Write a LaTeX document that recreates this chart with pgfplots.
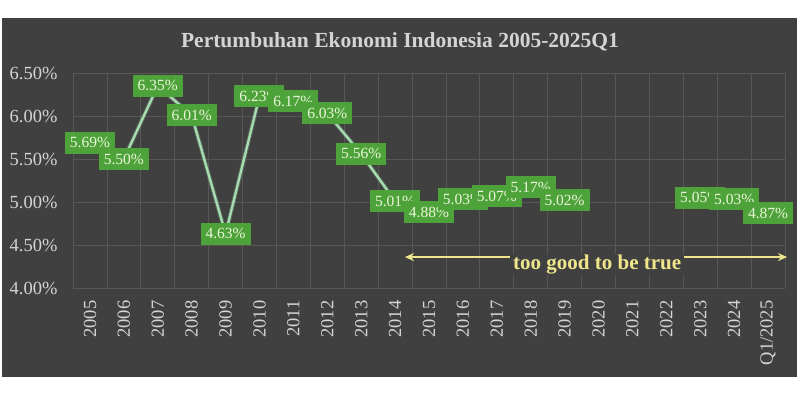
\documentclass[border=0pt]{standalone}
\usepackage{pgfplots}
\pgfplotsset{compat=1.18}
\usetikzlibrary{arrows.meta}
\usepackage{fontspec}
\setmainfont{Liberation Serif}
\definecolor{bg}{HTML}{404040}
\definecolor{gridc}{HTML}{575757}
\definecolor{lbl}{HTML}{4EA23A}
\definecolor{lbltxt}{HTML}{EAF6D8}
\definecolor{linec}{HTML}{A6DDB0}
\definecolor{tickc}{HTML}{D4D4D4}
\definecolor{yel}{HTML}{EFE68C}
\begin{document}
\begin{tikzpicture}
\fill[white] (0pt,0pt) rectangle (800pt,400pt);
\fill[bg] (2pt,23pt) rectangle (797pt,382pt);
\node[text=tickc, font=\fontsize{21.5}{24}\selectfont\bfseries] at (400pt,358pt) {Pertumbuhan Ekonomi Indonesia 2005-2025Q1};
\begin{axis}[
  at={(73pt,112pt)}, anchor=south west, scale only axis,
  width=712pt, height=215pt,
  xmin=-0.5, xmax=20.5, ymin=4, ymax=6.5,
  clip=false,
  axis line style={draw=none},
  major tick length=0pt, minor tick length=0pt,
  ytick={4,4.5,5,5.5,6,6.5},
  yticklabel={\pgfmathprintnumber[fixed,fixed zerofill,precision=2]{\tick}\%},
  xtick={0,...,20},
  xticklabels={2005,2006,2007,2008,2009,2010,2011,2012,2013,2014,2015,2016,2017,2018,2019,2020,2021,2022,2023,2024,Q1/2025},
  minor xtick={-0.5,0.5,...,20.5},
  ymajorgrids, xminorgrids,
  grid style={draw=gridc, line width=0.8pt},
  /pgf/number format/assume math mode=true,
  tick label style={text=tickc, font=\fontsize{18.5}{20}\selectfont},
  x tick label style={rotate=90, anchor=east, xshift=0pt},
  xtick pos=bottom,
  ytick pos=left,
  xticklabel shift=9pt,
  yticklabel shift=12pt,
  nodes near coords,
  point meta=explicit symbolic,
  nodes near coords style={anchor=center, fill=lbl, text=lbltxt,
     font=\fontsize{15.5}{17}\selectfont, inner xsep=5pt, inner ysep=0pt,
     minimum height=22pt},
]
\addplot[draw=linec!60!bg, line width=4.5pt, mark=none, opacity=0.35, forget plot, nodes near coords=false] coordinates {
 (0,5.69) (1,5.50) (2,6.35) (3,6.01) (4,4.63) (5,6.23) (6,6.17) (7,6.03) (8,5.56) (9,5.01) (10,4.88) (11,5.03) (12,5.07) (13,5.17) (14,5.02)
};
\addplot[draw=linec, line width=2.4pt, mark=none] coordinates {
 (0,5.69) [5.69\%]
 (1,5.50) [5.50\%]
 (2,6.35) [6.35\%]
 (3,6.01) [6.01\%]
 (4,4.63) [4.63\%]
 (5,6.23) [6.23\%]
 (6,6.17) [6.17\%]
 (7,6.03) [6.03\%]
 (8,5.56) [5.56\%]
 (9,5.01) [5.01\%]
 (10,4.88) [4.88\%]
 (11,5.03) [5.03\%]
 (12,5.07) [5.07\%]
 (13,5.17) [5.17\%]
 (14,5.02) [5.02\%]
};
\addplot[draw=linec, line width=2.4pt, mark=none] coordinates {
 (18,5.05) [5.05\%]
 (19,5.03) [5.03\%]
 (20,4.87) [4.87\%]
};
\draw[yel, line width=2.6pt, {Stealth[length=9pt,width=8pt]}-{Stealth[length=9pt,width=8pt]}] (axis cs:9.29,4.36) -- (axis cs:20.56,4.36);
\node[fill=bg, text=yel, font=\fontsize{21}{23}\selectfont\bfseries, inner xsep=3pt, inner ysep=1pt] at (axis cs:14.96,4.27) {too good to be true};
\end{axis}
\end{tikzpicture}
\end{document}
